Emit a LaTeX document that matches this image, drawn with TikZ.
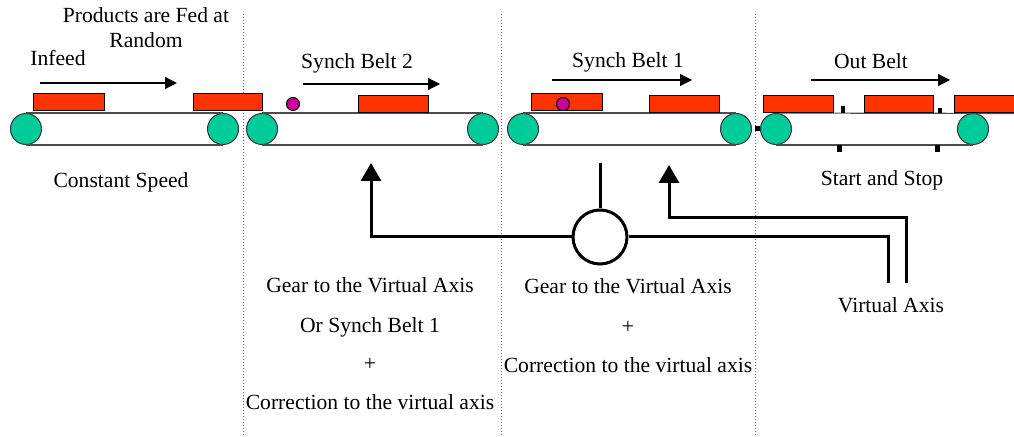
\documentclass[tikz,border=0pt]{standalone}
\usepackage{fontspec}
\setmainfont{Liberation Serif}
\usetikzlibrary{arrows.meta}
\definecolor{rollgreen}{RGB}{0,204,153}
\definecolor{boxred}{RGB}{255,51,0}
\definecolor{dotpink}{RGB}{204,0,153}
\begin{document}
\begin{tikzpicture}[x=0.5pt,y=-0.5pt,
	roller/.style={circle,draw=black!80,fill=rollgreen,minimum size=15.5pt,inner sep=0pt,line width=0.5pt},
	product/.style={draw=black,fill=boxred,line width=0.5pt},
	marker/.style={circle,draw=black,fill=dotpink,minimum size=6.5pt,inner sep=0pt,line width=0.5pt},
	belt/.style={draw=black!70,line width=0.6pt},
	motion/.style={-{Triangle[width=6pt,length=6pt]},line width=0.6pt},
	shaft/.style={line width=1.5pt},
	feed/.style={shaft,-{Triangle[width=10pt,length=9pt]}},
	divider/.style={densely dotted,draw=black!60,line width=0.5pt},
	label/.style={font=\fontsize{10.8}{13}\selectfont,inner sep=0pt,text height=7.5pt,text depth=2.2pt}]
\useasboundingbox (0,0) rectangle (1014,437);
% section dividers
\foreach \x in {243,501,755}
	\draw [divider] (\x,14) -- (\x,437);
% belts with their rollers
\foreach \a/\b/\n in {26/223/in,262/483/sbtwo,523/736/sbone,776/973/out} {
	\node [roller] (\n-l) at (\a,129) {};
	\node [roller] (\n-r) at (\b,129) {};
	\draw [belt] (\n-l.south) -- (\n-r.south);
}
\draw [belt] (in-l.north) -- (in-r.north);
\draw [belt] (sbtwo-l.north) -- (sbtwo-r.north);
\draw [belt] (sbone-l.north) -- (sbone-r.north);
\coordinate (outend) at (1014,113.5);
\draw [belt] (out-l.north) -- (outend);
% products
\draw [product] (33,94) rectangle (104,111);
\draw [product] (193,94) rectangle (262,111);
\draw [product] (358,96) rectangle (428,113);
\draw [product] (531,94) rectangle (602,111);
\draw [product] (649,96) rectangle (719,113);
\draw [product] (763,96) rectangle (833,113);
\draw [product] (864,96) rectangle (933,113);
\draw [product] (954,96) rectangle (1016,113);
\node [marker] (dotA) at (293,104) {};
\node [marker] (dotB) at (563,104) {};
% sensors and stops
\fill (755,126) rectangle (760,131);
\fill (841,106) rectangle (845,113);
\fill (938,108) rectangle (942,113);
\fill (837,145) rectangle (842,152);
\fill (935,145) rectangle (940,152);
% direction of travel
\draw [motion] (40,83) -- (177,83);
\draw [motion] (303,84) -- (440,84);
\draw [motion] (552,80) -- (692,80);
\draw [motion] (811,80) -- (950,80);
% belt labels
\node [label] (fed) at (146,17) {Products are Fed at};
\node [label] (random) at (146,42) {Random};
\node [label] (infeed) at (58,60) {Infeed};
\node [label] (const) at (121,182) {Constant Speed};
\node [label] (sbtwolab) at (357,63) {Synch Belt 2};
\node [label] (sbonelab) at (628,62) {Synch Belt 1};
\node [label] (outlab) at (871,63) {Out Belt};
\node [label] (startstop) at (882,180) {Start and Stop};
% virtual axis
\node [circle,draw,shaft,minimum size=27pt,inner sep=0pt] (hub) at (600,237) {};
\coordinate (hubtop) at (600,163);
\coordinate (tipA) at (371,163);
\coordinate (tipB) at (669,165);
\coordinate (bendB) at (669,218);
\coordinate (vaA) at (888,283);
\coordinate (vaB) at (906,283);
\draw [shaft] (hubtop) -- (hub.north);
\draw [feed] (hub.west) -| (tipA);
\draw [shaft] (hub.east) -| (vaA);
\draw [feed] (vaB) |- (bendB) -- (tipB);
\node [label] (gearA) at (370,287) {Gear to the Virtual Axis};
\node [label] (orsb) at (370,327) {Or Synch Belt 1};
\node [label] (plusA) at (370,365) {+};
\node [label] (corrA) at (370,404) {Correction to the virtual axis};
\node [label] (gearB) at (628,288) {Gear to the Virtual Axis};
\node [label] (plusB) at (628,328) {+};
\node [label] (corrB) at (628,367) {Correction to the virtual axis};
\node [label] (valab) at (891,307) {Virtual Axis};
\end{tikzpicture}
\end{document}
